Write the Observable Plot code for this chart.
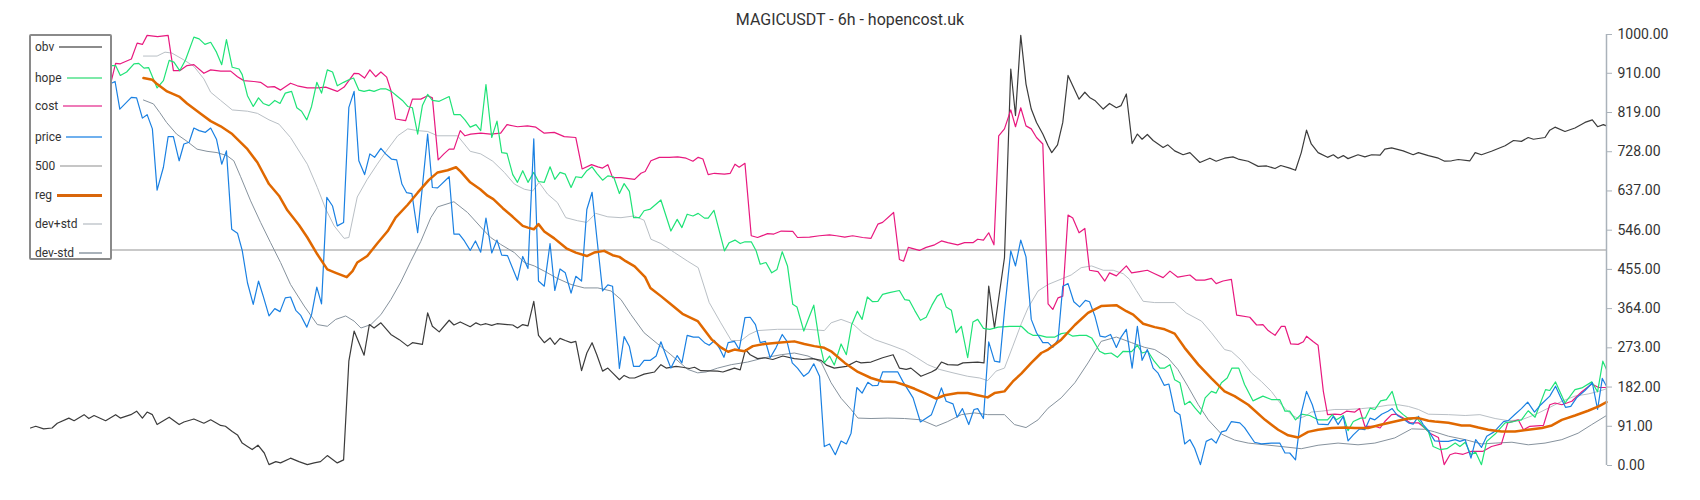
<!DOCTYPE html>
<html>
<head>
<meta charset="utf-8">
<script src="https://cdn.jsdelivr.net/npm/d3@7"></script>
<script src="https://cdn.jsdelivr.net/npm/@observablehq/plot@0.6"></script>
<style>
  html, body { margin: 0; padding: 0; background: #fff; overflow: hidden; }
  #wrap { position: relative; width: 1700px; height: 500px; overflow: hidden; font-family: Roboto, "Noto Sans", sans-serif; }
  #chart { position: absolute; left: 0; top: 0; width: 1700px; height: 500px; }
  #title { position: absolute; left: 0; top: 10px; width: 1700px; text-align: center; font-size: 16px; color: #333; }
  #legend { position: absolute; left: 29px; top: 34px; width: 79px; height: 222px; background: #fff;
            border: 2px solid #8a8a8a; border-radius: 2px; }
  .item { position: absolute; left: 4px; right: 8px; display: flex; align-items: center; height: 16px; font-size: 12px; color: #333; }
  .item span.sw { flex: 1; margin-left: 5px; }
  svg { display: block; }
</style>
</head>
<body>
<div id="wrap">
  <div id="chart"></div>
  <div id="title">MAGICUSDT - 6h - hopencost.uk</div>
  <div id="legend"></div>
</div>
<script>
// bar index (6h candles), value
const obv = [[0,87],[1,91],[2.5,85],[4.1,87],[5.1,98],[7.3,110],[8.3,104],[10.2,118],[11.1,109],[12.1,116],[14.3,104],[16.2,118],[17.1,110],[19.1,118],[20.2,126],[21.3,110],[22.2,124],[23.2,118],[24.1,95],[26.4,112],[28.3,95],[29.2,101],[31.1,108],[33,98],[34.3,106],[36.2,93],[37.1,91],
[38.4,79],[39.4,71],[40.3,52],[41.3,44],[42.2,37],[43.3,47],[44.5,29],[45.4,2],[46.7,9],[47.6,6],[49.5,17],[51.1,9],[52.7,2],[54,6],[55.2,9],[56.5,23],[58.4,6],[59.6,13],[60.6,242],[61.6,312],[63.5,256],[64.5,327],[65.4,319],[66.7,331],[68.6,304],[70.2,292],[71.8,277],[72.7,285],[74.6,281],[75.6,354],
[76.5,323],[77.8,310],[79.7,337],[80.6,326],[81.8,333],[83.7,322],[84.8,331],[85.7,326],[86.7,329],[87.8,325],[88.8,329],[90.8,327],[91.8,326],[92.7,319],[93.7,327],[94.7,324],[95.8,381],[96.7,302],[97.8,285],[98.9,296],[99.8,281],[100.8,295],[101.8,290],[102.9,285],[103.8,288],[104.9,220],[105.9,261],[106.9,285],[107.8,257],[108.9,219],[109.9,226],[110.8,215],[112.1,199],[113,209],[114,203],
[115,203],[116.8,212],[118.8,217],[120,234],[121,226],[122.9,230],[124.1,228],[125.4,225],[126.4,228],[127.6,220],[130.8,219],[131.8,217],[133,222],[134,226],[135.1,222],[136.1,269],[137,257],[138.4,248],[139.7,250],[141.3,246],[143.2,254],[145.4,248],[147,246],[148.9,248],[150.5,244],
[151.5,233],[153,226],[155.3,230],[157.2,242],[158.1,238],[160,240],[162.2,250],[164.2,257],[165.4,226],[166.7,223],[167.6,226],[169.5,207],[171.5,217],[172.4,223],[173.4,240],[174.6,234],[176.5,233],[177.5,238],[180.3,240],[181.5,238],[182.4,416],[183.5,319],[185.4,482],[186.6,920],[187.5,812],[188.5,998],[189.5,885],[190.5,827],
[191.5,796],[192.7,769],[193.7,742],[194.4,726],[195.5,744],[196.5,796],[197.5,905],[198.4,881],[199.6,850],[200.7,866],[201.6,854],[202.6,847],[204.2,827],[205.4,840],[206.7,830],[207.6,835],[208.6,862],[209.7,747],[210.7,769],[211.6,757],[212.6,768],[213.7,754],[215.6,738],[216.5,744],[217.8,730],[219.4,721],[220.7,726],[222.6,703],[224.5,713],[225.7,706],[227.3,713],[228.9,716],
[229.9,711],[231.8,706],[233.7,694],[235.3,695],[236.9,689],[238,696],[239.7,690],[240.8,685],[241.9,726],[242.9,778],[243.8,746],[245.1,726],[246.9,715],[248,721],[248.9,713],[249.9,719],[250.8,712],[252.7,721],[254,716],[255.3,721],[256.9,720],[257.8,734],[259.1,737],[261.3,730],[263.2,721],[264.2,726],
[266.1,719],[268,713],[269.2,706],[270.5,707],[271.8,710],[274,707],[275,726],[276.2,721],[278.1,729],[280.7,742],[282.3,754],[283.8,752],[285.1,761],[286.1,757],[288.3,761],[289.2,778],[290.2,785],[292.1,775],[294,783],[295.9,796],[297.3,802],[298.3,786],[299.4,791],[300,788]];

const price = [[0,880],[3,862],[6,875],[9,850],[12,868],[15.4,887],[16.1,891],[17,827],[19.2,854],[20.2,853],[21.3,806],[22.2,814],[23.2,781],[24.1,639],[25.3,692],[26.2,763],[27.2,763],[28.3,707],[29.2,746],[30.2,750],[31.1,783],[32.1,777],[33.3,773],[34.3,783],[35.4,757],[36.4,699],[37.3,730],[38.3,548],[39.4,539],
[40.3,499],[41.3,424],[42.4,374],[43.4,428],[44.3,393],[45.4,347],[46.5,364],[47.5,357],[48.5,389],[49.5,391],[50.5,360],[51.4,349],[52.6,321],[53.5,350],[54.5,414],[55.4,375],[56.4,622],[57.5,602],[58.4,556],[59.6,564],[60.6,831],[61.6,868],[62.5,707],[63.6,675],[64.6,723],[65.5,715],[66.7,736],[67.6,723],[68.7,711],[69.7,709],[70.7,653],[71.6,633],[72.6,631],[73.7,540],[74.6,647],[75.6,769],
[76.5,645],[77.5,644],[79.7,670],[80.6,537],[81.6,537],[82.6,521],[83.7,499],[84.7,521],[85.7,495],[86.7,574],[87.8,493],[88.8,523],[89.7,488],[90.8,487],[92.7,430],[93.7,485],[94.7,457],[95.8,758],[96.7,428],[97.8,416],[98.9,515],[99.8,406],[100.8,456],[101.8,447],[102.9,400],[103.8,439],[104.9,428],[105.9,594],[106.9,634],[107.8,529],[108.9,405],[109.9,419],[110.8,416],[112.1,225],[113,299],[114,276],
[114.8,230],[115.9,230],[116.8,244],[118,244],[119.1,254],[120,287],[121,254],[121.9,226],[123.1,255],[124,238],[125,302],[126.2,298],[127.2,298],[128.3,285],[129.2,279],[130.2,290],[131.1,273],[132,251],[132.8,285],[134,288],[134.9,269],[136,343],[137,344],[138,327],[138.9,285],[139.9,288],[140.8,250],[141.9,273],[143.1,304],[144,288],[145,238],[146,226],[147.2,207],[148.1,215],[149.1,236],[150.2,207],[151.1,44],[152.1,50],[153.2,25],
[154.3,57],[155.3,50],[156.2,75],[157.3,181],[158.3,168],[159.4,193],[160.3,185],[161.3,186],[162.2,217],[165.1,217],[166.1,194],[168,157],[169.4,101],[171.5,118],[173.4,180],[174.3,149],[175.6,143],[176.4,112],[177.4,132],[178.6,95],[179.6,130],[180.3,132],[181.4,109],[182.4,287],[183.5,242],[184.5,240],[185.4,358],[186.6,498],[187.5,463],[188.5,523],[189.5,484],[190.5,339],
[191.5,308],[192.7,285],[193.7,285],[194.6,274],[195.6,292],[196.5,416],[197.5,422],[198.6,380],[199.7,368],[200.8,383],[201.6,380],[202.6,347],[203.6,300],[204.6,298],[205.6,304],[206.7,274],[207.6,298],[208.6,316],[209.7,226],[210.7,323],[211.6,244],[212.6,269],[213.7,226],[214.6,215],[215.8,186],[216.7,189],[217.8,126],[218.8,118],[219.7,50],[220.7,60],[221.6,40],[222.7,2],[223.8,56],[224.8,62],[225.7,52],[226.7,78],[227.6,81],[228.6,102],
[230.2,99],[231.1,88],[233,54],[234.3,50],[236.2,52],[237.8,52],[238.8,29],[239.7,29],[240.8,13],[241.9,122],[242.9,172],[244,141],[245.1,96],[247,95],[248,114],[248.9,95],[249.9,114],[250.8,57],[251.8,71],[253,85],[254,83],[255,110],[255.9,106],[257.2,119],[258.4,126],[259.2,132],[260.2,116],[261.2,109],[262.3,99],[263.2,96],[264.2,114],[265.1,95],
[266.1,81],[267.3,57],[268.6,56],[269.9,56],[271.2,60],[272.1,56],[273.1,60],[274.2,17],[275.1,60],[276.2,42],[277.2,68],[278.6,78],[280.4,102],[281.3,104],[282.6,119],[283.8,132],[285,147],[286.3,124],[287.5,141],[289.2,161],[290.3,184],[291.3,157],[292.2,135],[293.2,137],[294.3,157],[295.9,174],[297.3,192],[298.3,130],[299.2,202],[300,184]];

const hope = [[0,925],[4,915],[8,930],[12,920],[15.4,928],[16.2,928],[17.1,905],[18.3,913],[19.7,932],[20.6,933],[21.6,922],[22.5,923],[24.1,876],[25.3,893],[26.4,940],[27.3,936],[28.4,916],[29.5,941],[31.1,994],[32.1,990],[33.2,977],[34.3,982],[35.4,959],[36.4,930],[37.3,988],[38.4,924],[39.7,920],
[40.3,907],[41.3,858],[42.4,833],[43.4,853],[44.3,840],[45.4,835],[46.5,847],[47.5,840],[48.5,864],[49.7,868],[50.7,830],[51.6,822],[52.6,802],[53.5,833],[54.5,889],[55.4,864],[56.5,918],[57.5,913],[58.4,881],[59.6,889],[60.6,895],[61.5,899],[62.5,871],[63.5,868],[64.5,871],[65.4,868],[66.7,874],[67.6,874],[68.7,868],[69.7,858],[70.8,847],[71.8,833],[72.7,830],[73.7,769],[74.6,835],[75.6,861],
[76.5,847],[77.8,845],[79.7,856],[80.6,814],[81.8,814],[82.7,802],[83.7,785],[84.8,791],[85.7,777],[86.7,884],[87.8,761],[88.8,799],[89.7,726],[90.7,724],[91.8,675],[92.7,657],[93.7,684],[94.7,657],[95.8,680],[96.7,659],[97.8,657],[98.9,693],[99.8,664],[100.8,680],[101.8,676],[102.9,645],[103.8,670],[104.9,668],[105.9,684],[106.9,693],[107.8,678],[108.9,662],[109.9,672],[111,670],[112.1,631],[113,654],[114,636],
[114.8,575],[115.9,575],[116.8,591],[118,595],[120,616],[121.9,544],[123.1,571],[124,552],[125,583],[126.1,579],[127.1,585],[128.3,574],[129,574],[130.1,592],[132.1,498],[133,517],[134.1,523],[135.1,515],[136,519],[137.2,519],[138.1,499],[138.9,467],[140,471],[141.1,447],[142.1,455],[143.1,496],[144.1,463],[145.1,374],[145.9,368],[147.2,312],[148.1,341],[149.1,372],[150.2,285],[151.1,238],[152.1,254],[153,233],
[154.3,282],[155.3,257],[156.3,326],[157.4,358],[158.3,339],[159.3,391],[160.3,380],[161.3,381],[162.2,397],[163.5,401],[165.4,406],[166.4,385],[167.3,383],[168.3,360],[169.4,337],[170.5,344],[171.6,372],[172.6,393],[173.4,399],[174.3,368],[175.3,360],[176.2,308],[177.2,323],[178.4,250],[179.4,333],[180.3,339],[181.4,318],[182.6,316],[184.2,321],[186.4,323],[188.6,323],[189.9,308],
[190.8,302],[192.1,302],[193.4,298],[195,298],[196.2,306],[197.2,308],[198.4,300],[199.7,302],[201,302],[202,296],[203.5,265],[204.5,259],[205.7,261],[206.9,251],[208,265],[209.6,264],[210.7,279],[211.6,261],[212.7,265],[213.9,242],[215,226],[215.9,226],[216.9,234],[217.8,199],[218.8,192],[219.7,141],[220.7,149],[221.7,133],[222.7,119],[223.6,157],[224.8,172],[225.7,168],[226.7,192],[227.8,203],[228.7,226],
[230,226],[231.1,188],[232.7,150],[234.6,161],[236.2,153],[237.8,153],[238.8,126],[239.7,126],[240.8,106],[241.9,119],[243.5,116],[245.1,106],[246.9,106],[247.8,118],[248.6,106],[249.9,116],[250.8,81],[251.8,102],[253.2,110],[254.1,110],[255,133],[255.9,130],[257,150],[258.1,153],[259.2,172],[260.2,130],[261.3,118],[262.6,106],[263.8,112],[265.1,91],
[266.1,79],[267,44],[268.3,37],[269.6,39],[271.2,52],[272.1,44],[273.1,54],[274.2,25],[275.1,31],[276.2,2],[277.2,56],[278.8,73],[280.7,99],[282.3,102],[283.8,106],[285.1,127],[286.4,112],[288.4,176],[289.2,174],[290.3,194],[292.1,145],[294,176],[295.3,180],[297.2,194],[298.3,171],[299.3,242],[300,223]];

const cost = [[0,905],[4,915],[8,930],[12,935],[15.4,893],[16.2,933],[17.1,932],[19.2,943],[20.3,980],[21.3,977],[22.2,998],[24.2,995],[26.2,998],[27.2,916],[28.4,916],[29.8,928],[31.1,930],[33,910],[34.3,918],[36.2,915],[38.1,915],
[39.4,902],[40.6,893],[42.5,891],[43.8,889],[45.1,878],[46.4,879],[47.6,871],[49.5,887],[50.8,881],[52.7,876],[54.6,876],[56.2,878],[58.4,868],[59.7,878],[61.6,910],[62.5,909],[63.6,899],[64.6,918],[65.7,902],[66.7,913],[67.8,901],[68.6,870],[69.5,804],[71.4,800],[72.7,850],[74.3,850],[75.6,858],[76.5,853],
[77.6,709],[78.7,723],[79.7,734],[80.6,734],[81.8,777],[82.7,765],[83.8,769],[85.7,771],[87.6,769],[89.5,771],[90.7,791],[92.7,786],[94.6,788],[96.2,785],[97.8,771],[99.7,773],[101.6,763],[103.8,761],[105,688],[106.8,698],[108,693],[108.9,690],[109.9,698],[110.8,668],[112.4,668],[115,664],
[116.2,678],[117,682],[118.1,707],[119.7,715],[121.6,715],[123.2,716],[124.8,713],[126.1,706],[127.1,715],[128,711],[129,675],[130.2,678],[132.1,676],[133.2,678],[134.1,699],[134.9,692],[136,701],[137.2,533],[138.4,529],[140.3,538],[141.5,537],[142.9,544],[145.1,543],[146,529],[148.3,530],[150.2,533],[152.1,535],
[153.4,533],[155,530],[156.5,533],[158.4,529],[160,527],[161.3,560],[162.2,564],[164.3,587],[165.4,478],[166.2,474],[167.1,506],[169.2,499],[170.5,506],[172.1,512],[173.4,521],[174.6,517],[176.5,512],[177.8,517],[179.4,517],[180.3,525],[181.4,523],[182.4,540],[183.4,512],[184.3,765],[185.4,781],[186.6,825],[187.5,786],[188.5,830],[189.5,788],[190.5,781],
[191.5,761],[192.7,746],[193.7,375],[194.6,362],[195.6,389],[196.5,393],[197.5,581],[198.4,574],[199.6,540],[200.7,550],[201.6,453],[203.2,450],[204.5,428],[205.4,447],[206.7,440],[208.6,463],[209.6,447],[211.1,450],[212.6,453],[214,445],[215.6,436],[216.9,451],[218.4,437],[220.7,442],[221.9,430],[223.5,430],[224.8,434],[225.7,422],[227,428],[228.6,432],[229.6,349],
[232.1,344],[233.4,326],[234.6,327],[235.6,313],[236.9,302],[238.1,323],[238.8,323],[239.9,282],[241.3,281],[242.3,287],[242.9,300],[244.2,287],[245.1,279],[246.1,172],[246.9,118],[248.3,119],[249.4,118],[250.5,126],[252.1,124],[253,132],[254,91],[255.9,91],[256.9,87],[257.8,102],[259.1,118],[260,119],[261.5,109],[262.6,99],[264.2,99],[265.4,87],
[266.4,75],[268,65],[269.1,2],[270.2,25],[271.2,29],[272.7,26],[274.3,33],[276.5,33],[278.1,44],[280,50],[281.2,99],[283.2,106],[284.2,83],[285.4,91],[288,93],[289.2,141],[290.2,145],[291.5,141],[293.4,149],[295.3,171],[297.2,189],[298.5,181],[300,181]];

const reg = [[21.5,899],[23.2,895],[24.1,885],[26,868],[28.3,856],[29.8,840],[32.4,816],[34.3,799],[36.2,787],[38.4,769],[41.3,734],[43.2,703],[45.4,653],[47.3,626],[48.9,592],[51.1,558],[52.7,529],[54.6,490],[56.5,455],[58.1,447],[60.2,437],[61.3,451],[62.2,471],[64.1,486],[66,515],[68,544],[69.5,575],[71.8,605],[73.7,633],[75.8,662],[77.5,680],[79.4,685],[81,692],[81.9,682],[83.7,657],[85.6,641],[87,626],[88.1,618],[89.9,597],[91.8,577],[93.7,556],[94.7,552],[95.8,548],[96.7,560],[97.8,543],[99.7,527],[102,504],[103.8,494],[105.9,486],[107.3,494],[109.2,498],[110.8,488],[112.1,484],[113.3,474],[115,462],[117,437],[118,412],[120,393],[121.9,374],[124.1,352],[127,335],[129.7,292],[131.4,274],[132.8,264],[134,269],[135.9,265],[137.5,277],[139.7,282],[142.2,285],[145.4,288],[147.3,282],[149.2,277],[151.1,273],[152.4,265],[155,238],[157.5,217],[160,203],[162.2,195],[164.5,194],[166.1,188],[168.3,178],[170.2,168],[172.4,155],[174,163],[176.5,168],[178.4,168],[180.3,163],[182.2,158],[183.5,168],[185.4,172],[187,195],[188.6,213],[190.5,238],[192.4,261],[193.7,269],[196.2,292],[198.8,326],[201.3,354],[203.8,370],[206.7,372],[208.6,358],[209.9,350],[211.8,329],[214,321],[215.9,316],[217.8,306],[219.7,273],[222.3,234],[224.8,202],[227.3,172],[229.2,161],[231.8,141],[235,106],[237.5,83],[239.4,70],[241.3,65],[243.2,78],[245.1,83],[247.7,87],[250.2,88],[252.1,87],[254.6,87],[257.2,95],[259.7,102],[262.3,109],[264.2,110],[266.1,104],[267.3,102],[269.9,99],[272.4,93],[274,93],[275.6,88],[277.5,83],[280,79],[282.6,79],[285.1,83],[287.7,87],[289.6,93],[291.5,106],[294,116],[296.5,127],[298.5,137],[300,147]];

const devPlus = [[21.5,950],[24.1,950],[25.6,959],[26.9,957],[29.2,941],[31.1,926],[33,897],[34.3,866],[36.2,847],[38.4,825],[41.3,822],[43.2,817],[45.4,802],[47.3,792],[49.5,761],[52.7,699],[54.6,645],[56.2,595],[57.8,556],[59.7,527],[60.6,529],[62.2,623],[64.1,664],[66,699],[68,734],[69.9,765],[71.8,781],[73.7,777],[75.6,775],[77.5,765],[81.3,765],[83.7,729],[85.7,723],[88,706],[90.2,680],[92.1,653],[94,641],[95.6,637],[96.8,657],[98.4,630],[100.3,610],[101.9,575],[104.1,568],[105.9,564],[107.6,585],[109.9,577],[112.4,575],[114.9,579],[116.8,569],[118.1,525],[120,515],[122.6,494],[125.1,474],[127.1,459],[129.2,378],[131.4,331],[133.4,290],[135.3,290],[136.8,304],[138.4,313],[142.2,316],[148,316],[151.1,313],[152.4,331],[154.3,339],[156.5,329],[158.4,308],[160.7,292],[163.8,279],[166.4,267],[168.6,251],[170.8,234],[173,223],[175.6,215],[178.4,207],[180.7,203],[182.2,197],[183.8,219],[185.4,226],[187,277],[188.6,329],[189.9,366],[191.8,405],[193.7,420],[196.5,434],[198.1,442],[200,459],[202,463],[204.2,453],[206.1,453],[208,445],[209.2,432],[210.5,406],[211.8,381],[214,378],[217.8,378],[220,354],[222.9,335],[224.8,308],[227.3,269],[228.6,265],[230.5,244],[232.4,215],[234.3,195],[236.2,172],[238.1,141],[240,118],[241.3,109],[242.6,114],[243.8,124],[245.7,126],[248.3,130],[250.8,130],[253.4,132],[255.9,135],[258.4,140],[260.3,141],[262.3,137],[264.2,130],[266.1,119],[269.9,118],[273.1,116],[275.9,118],[278.8,109],[281.3,104],[283.8,106],[286.4,118],[288.9,133],[291.5,149],[294,161],[296.5,166],[298.5,172],[300,178]];

const devMinus = [[21.5,848],[23.4,839],[24.6,819],[25.9,796],[27.8,769],[29.8,752],[31.7,734],[33.6,729],[35.5,726],[37.4,719],[38.7,707],[40,670],[41.9,614],[43.8,564],[45.7,517],[47.6,471],[49.5,420],[52.1,370],[54.6,327],[56.5,323],[58.1,339],[60,347],[61.6,335],[62.9,319],[64.8,327],[66.7,350],[68.6,385],[70.5,426],[72.4,474],[74.3,520],[76.2,575],[77.5,600],[80.6,612],[83.2,587],[86.1,548],[87.6,529],[89.5,513],[92.1,494],[94,471],[95.9,463],[97.8,451],[100.3,434],[102.9,420],[105.4,412],[108,412],[110.5,405],[112.4,385],[114.3,350],[116.8,308],[119.4,282],[121.9,257],[125.1,223],[127,215],[128.6,217],[130.8,226],[133.4,234],[136.5,240],[139.7,250],[142.9,257],[145.4,261],[148,254],[150.5,240],[152.4,192],[154.3,156],[156.2,130],[157.5,110],[160,109],[163.2,110],[166.4,109],[169.5,106],[172.4,91],[174.6,102],[177.2,118],[179.7,122],[182.2,118],[185.4,118],[187.3,95],[189.5,88],[191.8,106],[193.7,133],[196.2,157],[198.8,192],[201.3,238],[203.8,288],[206.7,298],[209.6,285],[212.1,274],[214,269],[216.5,250],[218.4,223],[220.3,184],[222.3,141],[224.2,106],[226.7,73],[229.2,59],[231.8,52],[235,48],[238.1,44],[241.9,39],[245.1,47],[248.9,52],[252.7,48],[255.9,52],[259.7,64],[262.9,85],[265.4,84],[267.3,78],[269.9,68],[273.1,60],[276.2,50],[278.8,52],[282,54],[285.1,48],[288.3,52],[291.5,60],[294.6,75],[297.2,95],[300,116]];

const level = 500;
const yTicks = [0, 91, 182, 273, 364, 455, 546, 637, 728, 819, 910, 1000];
const xSpan = [0, 300];

const legendNames = ["obv", "hope", "cost", "price", "500", "reg", "dev+std", "dev-std"];
const legendColors = ["#8c8c8c", "#7ee9a9", "#ee7bb8", "#6fb0ee", "#c6c6c6", "#d9660a", "#d2d6da", "#a9b2ba"];

const C = { obv: "#3c3c3c", hope: "#1fe377", cost: "#e8197f", price: "#1a80e2", lvl: "#c9c9c9", reg: "#e06800", up: "#b9bfc5", dn: "#86929d" };

const line = (data, stroke, w) => Plot.line(data, { x: d => d[0], y: d => d[1], stroke, strokeWidth: w, curve: "linear" });

const chart = Plot.plot({
  width: 1700,
  height: 500,
  marginLeft: 30,
  marginRight: 94,
  marginTop: 34,
  marginBottom: 35,
  style: { fontFamily: "Roboto, sans-serif", fontSize: "14px", color: "#333", background: "transparent" },
  x: { domain: xSpan, axis: null },
  y: { domain: [0, 1000], axis: null },
  marks: [
    Plot.ruleY([level], { stroke: C.lvl, strokeWidth: 2 }),
    line(devPlus, C.up, 1),
    line(devMinus, C.dn, 1),
    line(obv, C.obv, 1.2),
    line(cost, C.cost, 1.2),
    line(hope, C.hope, 1.2),
    line(price, C.price, 1.2),
    line(reg, C.reg, 2.5),
    Plot.ruleX([xSpan[1]], { stroke: "#aab2ba", strokeWidth: 1.5 }),
    Plot.axisY(yTicks, { anchor: "right", tickFormat: d => d.toFixed(2), tickSize: 5, tickPadding: 6, stroke: "#aab2ba", fill: "#333", label: null, fontSize: 14 })
  ]
});
document.getElementById("chart").appendChild(chart);

const lg = document.getElementById("legend");
const tops = [3, 34, 62, 93, 122, 151, 180, 209];
legendNames.forEach((n, i) => {
  const it = document.createElement("div");
  it.className = "item";
  it.style.top = tops[i] + "px";
  const t = document.createElement("span");
  t.textContent = n;
  const sw = document.createElement("span");
  sw.className = "sw";
  sw.style.borderTop = (n === "reg" ? 3 : 2.5) + "px solid " + legendColors[i];
  it.appendChild(t);
  it.appendChild(sw);
  lg.appendChild(it);
});
</script>
</body>
</html>
